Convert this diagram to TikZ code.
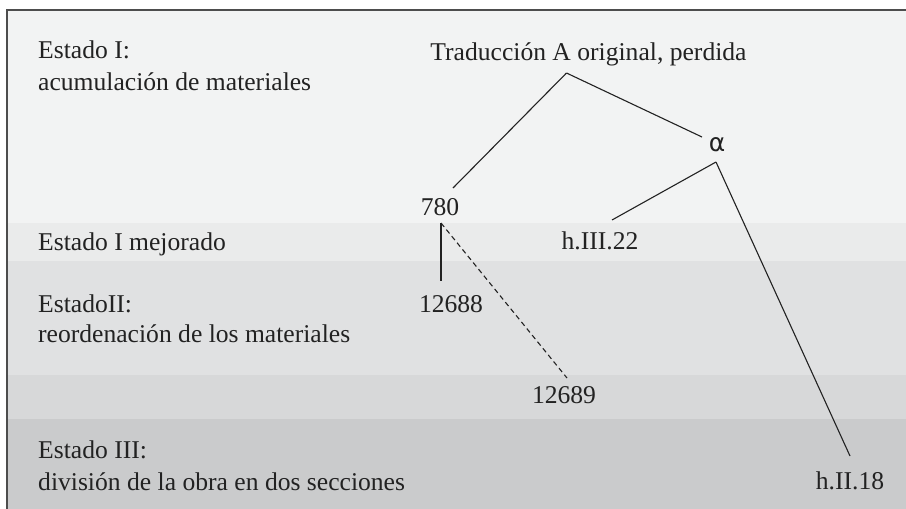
\documentclass[tikz,border=0pt]{standalone}
\usepackage{fontspec}
\setmainfont{Liberation Serif}
\newfontfamily\alphafont{DejaVu Sans}
\usetikzlibrary{calc}
\definecolor{bandA}{HTML}{F2F3F3}
\definecolor{bandB}{HTML}{EAEBEB}
\definecolor{bandC}{HTML}{E0E1E2}
\definecolor{bandD}{HTML}{D7D8D9}
\definecolor{bandE}{HTML}{CACBCC}
\definecolor{framecol}{HTML}{4D4D4D}
\definecolor{inkcol}{HTML}{222222}
\begin{document}
\begin{tikzpicture}[x=1pt,y=-1pt,
  lbl/.style={inner sep=0pt,anchor=base west,text=inkcol,font=\fontsize{25.6}{32}\selectfont},
  ms/.style={inner sep=0pt,anchor=base,text=inkcol,font=\fontsize{25.6}{32}\selectfont},
  link/.style={draw=inkcol,line width=1.1pt},
  dlink/.style={draw=inkcol,line width=1.1pt,dash pattern=on 5pt off 3.5pt}]
\useasboundingbox (0,0) rectangle (906,509);
\fill[white] (0,0) rectangle (906,509);
% bands
\fill[bandA] (7,10) rectangle (906,223);
\fill[bandB] (7,223) rectangle (906,261);
\fill[bandC] (7,261) rectangle (906,375);
\fill[bandD] (7,375) rectangle (906,419);
\fill[bandE] (7,419) rectangle (906,509);
% frame
\draw[framecol,line width=1.5pt] (7,509) -- (7,10) -- (906,10);
% left labels
\node[lbl] (s1a) at (38,58) {Estado I:};
\node[lbl] (s1b) at (38,90) {acumulación de materiales};
\node[lbl] (s1m) at (38,250) {Estado I mejorado};
\node[lbl] (s2a) at (38,312) {EstadoII:};
\node[lbl] (s2b) at (38,342) {reordenación de los materiales};
\node[lbl] (s3a) at (38,458) {Estado III:};
\node[lbl] (s3b) at (38,490) {división de la obra en dos secciones};
% stemma nodes
\node[ms] (trad) at (588.5,60) {Traducción A original, perdida};
\node[inner sep=0pt,text=inkcol,font=\alphafont\fontsize{25}{30}\selectfont] (alpha) at (717,145) {α};
\node[ms] (n780) at (440,215) {780};
\node[ms] (h3) at (600,249) {h.III.22};
\node[ms] (n12688) at (451,312) {12688};
\node[ms] (n12689) at (564,403) {12689};
\node[ms] (h2) at (850,489) {h.II.18};
% connectors
\draw[link] ($(trad.base)+(-22,13)$) -- ($(n780.base)+(13,-27)$);
\draw[link] ($(trad.base)+(-22,13)$) -- ($(alpha)+(-15,-8)$);
\draw[link] ($(alpha)+(-1,17)$) -- ($(h3.base)+(12,-29)$);
\draw[link] ($(alpha)+(-1,17)$) -- ($(h2.base)+(0,-33)$);
\draw[link] ($(n780.base)+(1,8)$) -- ($(n12688.base)+(-10,-31)$);
\draw[dlink] ($(n780.base)+(1,8)$) -- ($(n12689.base)+(3,-25)$);
\end{tikzpicture}
\end{document}
